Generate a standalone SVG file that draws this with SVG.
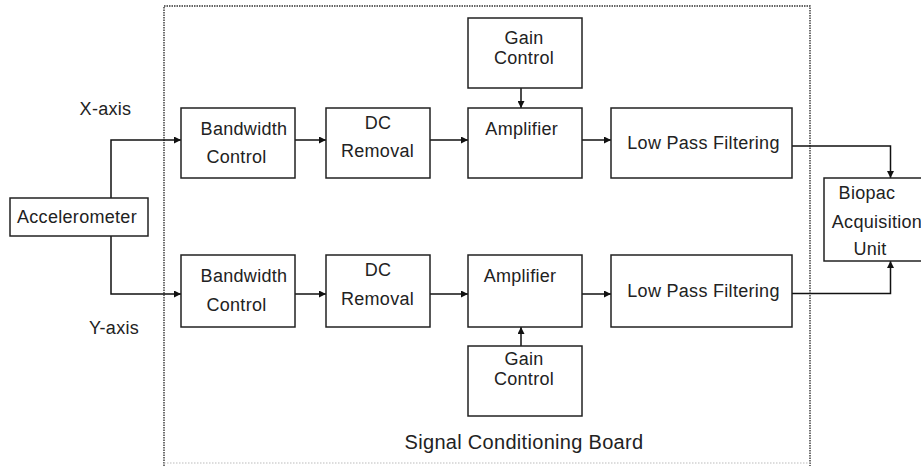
<svg xmlns="http://www.w3.org/2000/svg" width="921" height="467" viewBox="0 0 921 467">
<defs>
<marker id="ah" viewBox="0 0 10 10" refX="10" refY="5" markerWidth="8" markerHeight="7" markerUnits="userSpaceOnUse" orient="auto">
<path d="M0,0 L10,5 L0,10 z" fill="#111"/>
</marker>
</defs>
<style>
.box{fill:#fff;stroke:#222;stroke-width:1.5}
.t{font-family:"Liberation Sans",Arial,sans-serif;font-size:18px;letter-spacing:0.3px;fill:#222;text-anchor:middle}
.big{font-size:20px}
.c{fill:none;stroke:#111;stroke-width:1.5}
.dot{fill:none;stroke:#333;stroke-width:1.4;stroke-dasharray:1.5 1}
.dotl{fill:none;stroke:#bbb;stroke-width:1;stroke-dasharray:1.5 1.5}
</style>
<rect width="921" height="467" fill="#fff"/>
<g id="board">
<path class="dot" d="M164,466 L164,6 L810,6 L810,466"/>
<path class="dotl" d="M164,463 L810,463"/>
<text class="t big" x="524" y="448.5">Signal Conditioning Board</text>
</g>
<g id="labels">
<text class="t" x="105.5" y="114.5">X-axis</text>
<text class="t" x="114" y="333.5">Y-axis</text>
</g>
<g id="connectors">
<path class="c" d="M111,198 L111,140 L181,140" marker-end="url(#ah)"/>
<path class="c" d="M111,236 L111,294 L181,294" marker-end="url(#ah)"/>
<path class="c" d="M295,140 L326,140" marker-end="url(#ah)"/>
<path class="c" d="M430,140 L468,140" marker-end="url(#ah)"/>
<path class="c" d="M582,140 L611,140" marker-end="url(#ah)"/>
<path class="c" d="M295,294 L326,294" marker-end="url(#ah)"/>
<path class="c" d="M430,294 L468,294" marker-end="url(#ah)"/>
<path class="c" d="M582,294 L611,294" marker-end="url(#ah)"/>
<path class="c" d="M521,88 L521,108" marker-end="url(#ah)"/>
<path class="c" d="M521,346 L521,327" marker-end="url(#ah)"/>
<path class="c" d="M792,146 L890.5,146 L890.5,178" marker-end="url(#ah)"/>
<path class="c" d="M792,293.5 L890.5,293.5 L890.5,261" marker-end="url(#ah)"/>
</g>
<g id="accelerometer">
<rect class="box" x="10" y="198" width="138" height="38"/>
<text class="t" x="77" y="223">Accelerometer</text>
</g>
<g id="bw-x">
<rect class="box" x="181" y="108" width="114" height="70"/>
<text class="t" x="244" y="134.5">Bandwidth</text>
<text class="t" x="236.5" y="162.5">Control</text>
</g>
<g id="dc-x">
<rect class="box" x="326" y="108" width="104" height="70"/>
<text class="t" x="378" y="129">DC</text>
<text class="t" x="377.5" y="156.5">Removal</text>
</g>
<g id="gain-x">
<rect class="box" x="468" y="18" width="114" height="70"/>
<text class="t" x="524" y="44">Gain</text>
<text class="t" x="524" y="64">Control</text>
</g>
<g id="amp-x">
<rect class="box" x="468" y="108" width="114" height="70"/>
<text class="t" x="521.7" y="135">Amplifier</text>
</g>
<g id="lpf-x">
<rect class="box" x="611" y="108" width="181" height="70"/>
<text class="t" x="703.5" y="148.5">Low Pass Filtering</text>
</g>
<g id="bw-y">
<rect class="box" x="181" y="255" width="114" height="72"/>
<text class="t" x="244" y="281.5">Bandwidth</text>
<text class="t" x="236.5" y="310.5">Control</text>
</g>
<g id="dc-y">
<rect class="box" x="326" y="255" width="104" height="72"/>
<text class="t" x="378" y="276">DC</text>
<text class="t" x="377.5" y="305">Removal</text>
</g>
<g id="amp-y">
<rect class="box" x="468" y="255" width="114" height="72"/>
<text class="t" x="520" y="281.5">Amplifier</text>
</g>
<g id="gain-y">
<rect class="box" x="468" y="346" width="114" height="70"/>
<text class="t" x="524" y="365">Gain</text>
<text class="t" x="524" y="385">Control</text>
</g>
<g id="lpf-y">
<rect class="box" x="611" y="255" width="181" height="72"/>
<text class="t" x="703.5" y="296.5">Low Pass Filtering</text>
</g>
<g id="biopac">
<rect class="box" x="824" y="178" width="110" height="83"/>
<text class="t" x="867" y="198.5">Biopac</text>
<text class="t" x="877" y="227.5">Acquisition</text>
<text class="t" x="870" y="254.5">Unit</text>
</g>
</svg>
